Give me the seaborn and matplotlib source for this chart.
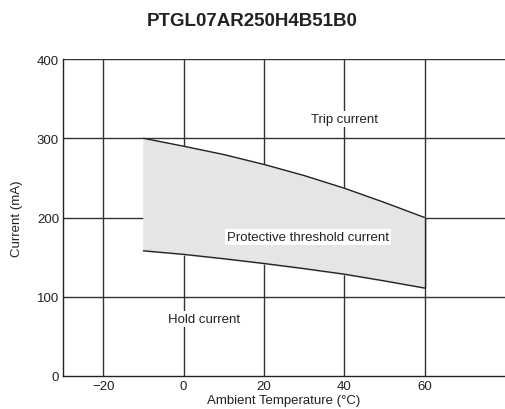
import numpy as np
import pandas as pd
import matplotlib
matplotlib.use('Agg')
import matplotlib.pyplot as plt
import seaborn as sns

# values
temps = [-10, 0, 10, 20, 30, 40, 50, 60]
trip_ma = [300, 290, 279.5, 267, 253, 237, 219, 200]
hold_ma = [158, 153.5, 148, 142, 135.5, 128.5, 120, 111]
x_ticks = [-20, 0, 20, 40, 60]
x_tick_labels = ['\u221220', '0', '20', '40', '60']
y_ticks = [0, 100, 200, 300, 400]

df = pd.DataFrame({'temp': temps, 'trip': trip_ma, 'hold': hold_ma})

sns.set_style('white')
plt.rcParams['font.family'] = ['Liberation Sans', 'DejaVu Sans']

fig = plt.figure(figsize=(5.05, 4.1), dpi=100)
ax = fig.add_axes([0.125, 0.0805, 0.875, 0.773])

ax.fill_between(df['temp'], df['hold'], df['trip'], color='#e4e5e7', zorder=1)
ax.plot([60, 60], [df['hold'].iloc[-1], df['trip'].iloc[-1]], color='#222222', lw=1.0, zorder=2)
sns.lineplot(data=df, x='temp', y='trip', ax=ax, color='#222222', lw=1.0, zorder=3)
sns.lineplot(data=df, x='temp', y='hold', ax=ax, color='#222222', lw=1.0, zorder=3)

for xv in x_ticks:
    ax.axvline(xv, color='#333333', lw=1.0, zorder=0.5)
for yv in y_ticks[1:]:
    ax.axhline(yv, color='#333333', lw=1.0, zorder=0.5)

ax.set_xlim(-30, 80)
ax.set_ylim(0, 400)
ax.set_xticks(x_ticks)
ax.set_xticklabels(x_tick_labels)
ax.set_yticks(y_ticks)
ax.tick_params(axis='both', length=0, labelsize=9.5, colors='#222222', pad=3)

for side in ['top', 'right']:
    ax.spines[side].set_visible(False)
for side in ['left', 'bottom']:
    ax.spines[side].set_color('#222222')
    ax.spines[side].set_linewidth(1.0)

ax.set_xlabel('Ambient Temperature (\u00b0C)', fontsize=9.5, color='#222222', labelpad=1)
ax.set_ylabel('Current (mA)', fontsize=9.5, color='#222222', labelpad=10)

box = dict(facecolor='white', edgecolor='none', pad=1.5)
ax.text(40, 324, 'Trip current', ha='center', va='center', fontsize=9.5, color='#222222', bbox=box, zorder=4)
ax.text(31, 175, 'Protective threshold current', ha='center', va='center', fontsize=9.5, color='#222222', bbox=box, zorder=4)
ax.text(5, 72, 'Hold current', ha='center', va='center', fontsize=9.5, color='#222222', bbox=box, zorder=4)

fig.suptitle('PTGL07AR250H4B51B0', x=0.5, y=0.968, fontsize=13.5, fontweight='bold', color='#222222')

fig.savefig('out.png', dpi=100)
